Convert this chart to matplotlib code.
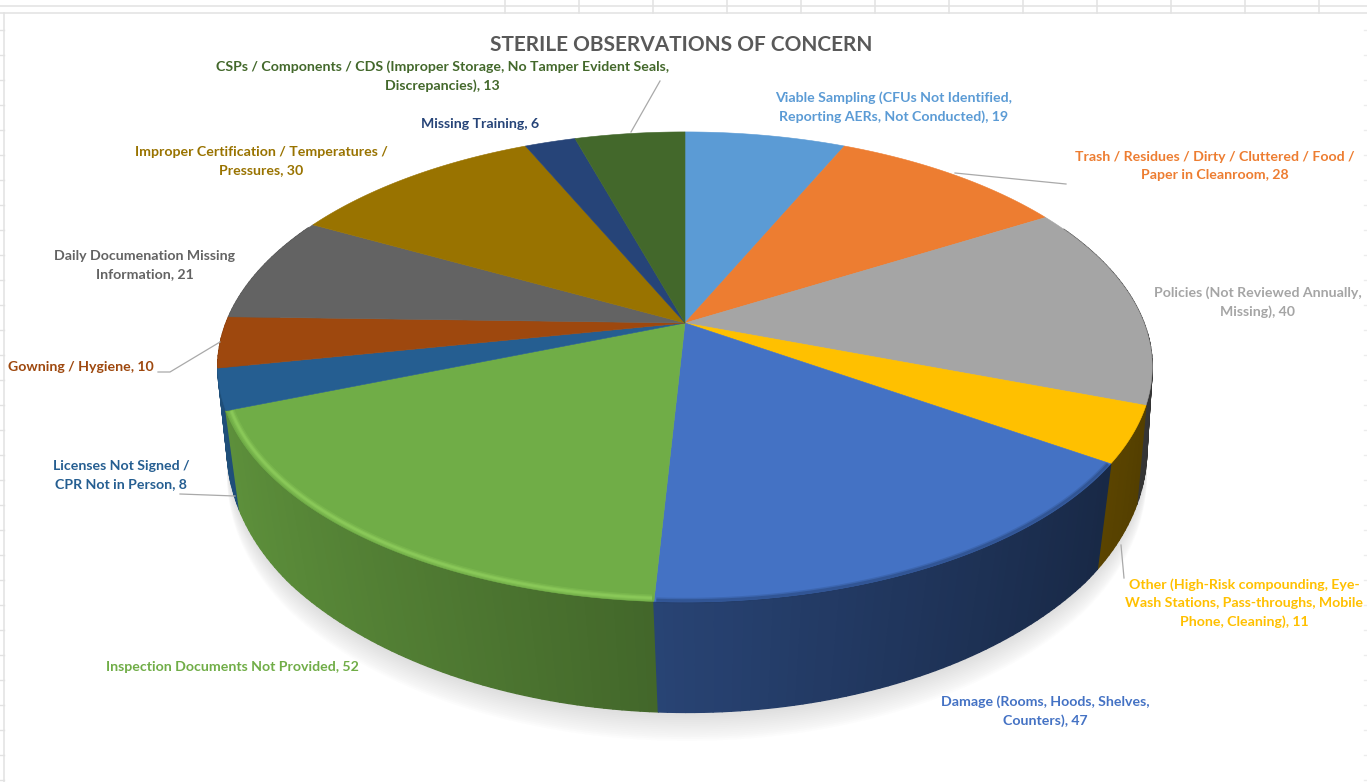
import numpy as np
import matplotlib
matplotlib.use("Agg")
import matplotlib.pyplot as plt
from matplotlib.collections import PolyCollection
from matplotlib.colors import to_rgb
from matplotlib.patches import Polygon

# Observation categories, clockwise from twelve o'clock
categories = [
    "Viable Sampling (CFUs Not Identified,\nReporting AERs, Not Conducted)",
    "Trash / Residues / Dirty / Cluttered / Food /\nPaper in Cleanroom",
    "Policies (Not Reviewed Annually,\nMissing)",
    "Other (High-Risk compounding, Eye-\nWash Stations, Pass-throughs, Mobile\nPhone, Cleaning)",
    "Damage (Rooms, Hoods, Shelves,\nCounters)",
    "Inspection Documents Not Provided",
    "Licenses Not Signed /\nCPR Not in Person",
    "Gowning / Hygiene",
    "Daily Documenation Missing\nInformation",
    "Improper Certification / Temperatures /\nPressures",
    "Missing Training",
    "CSPs / Components / CDS (Improper Storage, No Tamper Evident Seals,\nDiscrepancies)",
]
values = [19, 28, 40, 11, 47, 52, 8, 10, 21, 30, 6, 13]
colors = ["#5B9BD5", "#ED7D31", "#A5A5A5", "#FFC000", "#4472C4", "#70AD47",
          "#255E91", "#9E480E", "#636363", "#997300", "#264478", "#43682B"]
label_xy = [(894, 107), (1215, 166), (1258, 302), (1244, 603), (1045, 711), (232, 667),
            (121, 475), (81, 367), (145, 265), (261, 161), (480, 124), (442, 76)]
title = "STERILE OBSERVATIONS OF CONCERN"

W, H = 1367, 782
FONT = "Lato"

fig = plt.figure(figsize=(W / 100, H / 100), dpi=100)
ax = fig.add_axes([0, 0, 1, 1])
ax.set_xlim(0, W)
ax.set_ylim(H, 0)
ax.axis("off")

# Spreadsheet cell lines behind the chart
GRID = "#e2e2e2"
for y in (6, 13):
    ax.plot([0, W], [y, y], color=GRID, lw=1.1, zorder=0)
for x in range(505, W, 74):
    ax.plot([x, x], [0, 13], color=GRID, lw=1.1, zorder=0)
ax.plot([4, 4], [13, H], color=GRID, lw=1.1, zorder=0)
for y in range(30, H, 25):
    ax.plot([0, 4], [y, y], color=GRID, lw=1.0, zorder=0)
    ax.plot([W - 3, W], [y, y], color="#ececec", lw=1.0, zorder=0)


def top_face(theta, r=1.0):
    """Perspective projection of the disc's upper face; theta runs clockwise from the back."""
    X, Y = r * np.sin(theta), r * np.cos(theta)
    d = 1 + 0.187 * Y
    return 685 + 459 * X / d, 323 - 226.8 * Y / d


def bottom_face(theta):
    X, Y = np.sin(theta), np.cos(theta)
    d = 1 + 0.10 * Y
    # The lower rim narrows toward the sides, so it stays inside the upper face there
    half_width = 467 * (1 - 0.025 * np.clip(1 + Y / 0.6, 0, 2))
    return 687 + half_width * X / d, 408 - 274 * Y / d


fractions = np.array(values) / sum(values)
edges = np.concatenate([[0], np.cumsum(fractions)]) * 2 * np.pi

# Soft ground shadow under the disc
ring = np.linspace(0, 2 * np.pi, 361)
bx, by = bottom_face(ring)
for step in range(30, 0, -2):
    ax.add_patch(Polygon(np.c_[bx, by + step * 0.95], closed=True, fc="#777777",
                         ec="none", alpha=0.015, zorder=1))

# Side wall: thin strips shaded from the left-hand light
strips, strip_colors, strip_depth = [], [], []
for start, end, color in zip(edges[:-1], edges[1:], colors):
    base = np.array(to_rgb(color))
    n = max(2, int((end - start) / np.radians(1.0)))
    t = np.linspace(start, end, n + 1)
    tx, ty = top_face(t)
    ux, uy = bottom_face(t)
    for i in range(n):
        mid = 0.5 * (t[i] + t[i + 1])
        if np.cos(mid) > 0.45:
            continue
        shade = np.clip(0.58 - 0.27 * np.sin(mid), 0.3, 0.9)
        strips.append([(tx[i], ty[i]), (tx[i + 1], ty[i + 1]), (ux[i + 1], uy[i + 1]), (ux[i], uy[i])])
        strip_colors.append(base * shade)
        strip_depth.append(np.cos(mid))
order = np.argsort(strip_depth)[::-1]
ax.add_collection(PolyCollection([strips[i] for i in order],
                                 facecolors=[strip_colors[i] for i in order],
                                 edgecolors=[strip_colors[i] for i in order],
                                 linewidths=1.0, zorder=2))

# Upper face of each slice, meeting at the projected centre
cx, cy = top_face(0.0, 0.0)
for start, end, color in zip(edges[:-1], edges[1:], colors):
    t = np.linspace(start, end, 200)
    x, y = top_face(t)
    ax.add_patch(Polygon(np.r_[[[cx, cy]], np.c_[x, y]], closed=True, fc=color, ec=color,
                         lw=0.4, zorder=3))

# Bevelled rim along the front of the two largest slices
t = np.linspace(edges[5] + 0.004, edges[6] - 0.004, 200)
for width, alpha in ((5.0, 0.22), (3.0, 0.32), (1.6, 0.4)):
    ax.plot(*top_face(t, 0.990), color="#96D662", lw=width, alpha=alpha, zorder=4, solid_capstyle="butt")
t = np.linspace(edges[4] + 0.004, edges[5] - 0.004, 200)
for width, alpha in ((4.0, 0.2), (2.0, 0.35)):
    ax.plot(*top_face(t, 0.996), color="#1F3864", lw=width, alpha=alpha, zorder=4, solid_capstyle="butt")

# Leader lines
LEADER = "#a9a9a9"
for xs, ys in [([660, 631], [81, 132]),
               ([955, 1066], [173, 184]),
               ([1121, 1124], [545, 578]),
               ([158, 170, 220], [372, 372, 342]),
               ([180, 235], [494, 496])]:
    ax.plot(xs, ys, color=LEADER, lw=0.9, zorder=5)

# Data labels in the colour of their slice
for name, value, color, (x, y) in zip(categories, values, colors, label_xy):
    ax.text(x, y, f"{name}, {value}", color=color, family=FONT, weight="bold", fontsize=10.15,
            ha="center", va="center", linespacing=1.63, zorder=6)

ax.text(681, 45, title, color="#595959", family=FONT, weight="bold", fontsize=15.0,
        ha="center", va="center", zorder=6)

fig.savefig("out.png", dpi=100)
